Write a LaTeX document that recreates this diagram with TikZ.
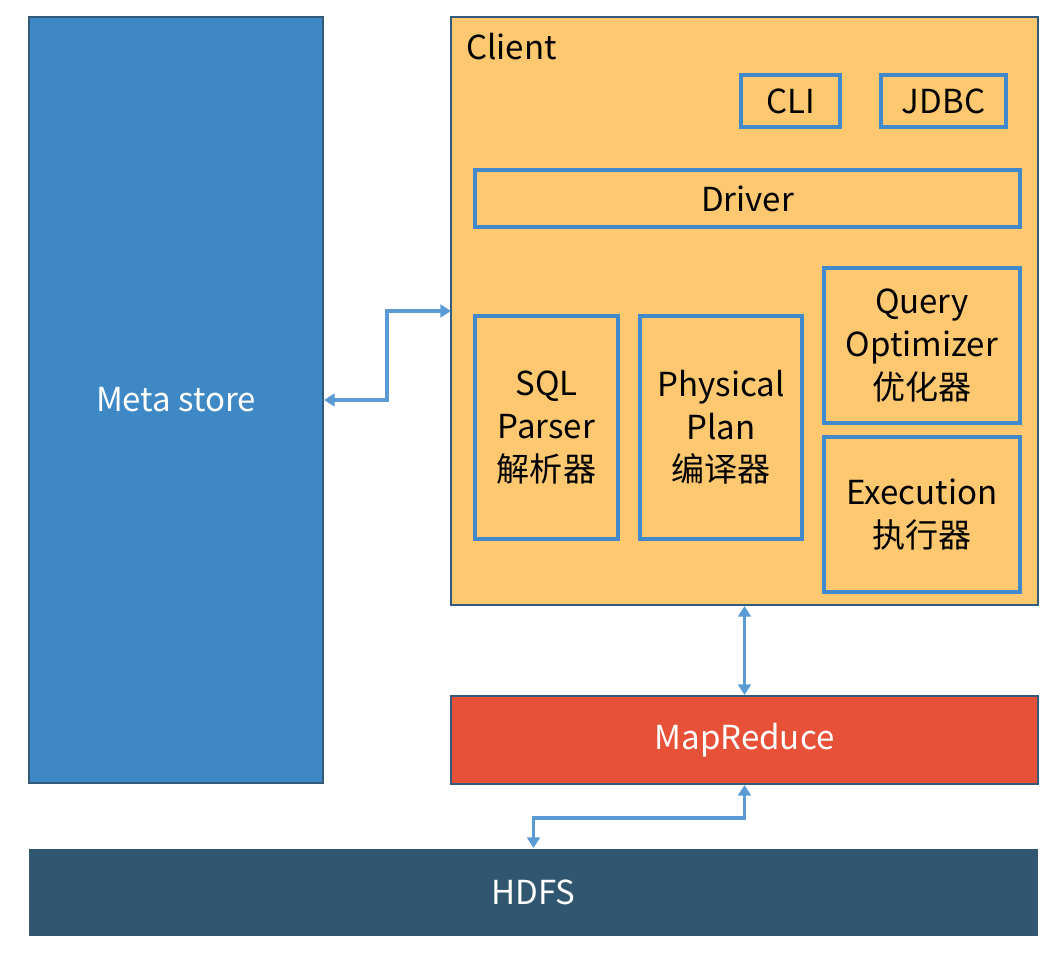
\documentclass[tikz,border=0pt]{standalone}
\usepackage{fontspec}
\setmainfont{Noto Sans CJK SC}
\usetikzlibrary{arrows.meta}

\definecolor{metablue}{HTML}{3D88C5}
\definecolor{edgeblue}{HTML}{315A7B}
\definecolor{clientorange}{HTML}{FDC86F}
\definecolor{boxblue}{HTML}{4189CB}
\definecolor{linkblue}{HTML}{5B9BD5}
\definecolor{mrred}{HTML}{E75138}
\definecolor{hdfsblue}{HTML}{31566F}

\tikzset{
  block/.style={draw=edgeblue, line width=1.4pt, rectangle, inner sep=0pt, font=\fontsize{23.5}{30}\selectfont},
  inbox/.style={draw=boxblue, line width=2.4pt, rectangle, inner sep=0pt, align=center, font=\fontsize{23.5}{30.3}\selectfont},
  link/.style={draw=linkblue, line width=2.4pt, {Triangle[length=7.5pt,width=9pt]}-{Triangle[length=7.5pt,width=9pt]}}
}

\begin{document}
\begin{tikzpicture}[x=0.025cm, y=-0.025cm]
\useasboundingbox (0,0) rectangle (1059,956);
% big blocks
\node [block, fill=metablue, text=white, minimum width=7.35cm, minimum height=19.15cm] (meta) at (176,400) {Meta store};
\node [block, fill=clientorange, minimum width=14.675cm, minimum height=14.7cm] (client) at (744.5,311) {};
\node [block, fill=mrred, text=white, minimum width=14.675cm, minimum height=2.2cm] (mr) at (744.5,740) {MapReduce};
\node [block, draw=none, fill=hdfsblue, text=white, minimum width=25.225cm, minimum height=2.175cm] (hdfs) at (533.5,892.5) {HDFS};
\node [anchor=west, inner sep=0pt, font=\fontsize{23.5}{30}\selectfont] (clientlabel) at (466,47) {Client};
% parts of the client
\node [inbox, minimum width=2.475cm, minimum height=1.3cm] (cli) at (790.5,101) {CLI};
\node [inbox, minimum width=3.125cm, minimum height=1.3cm] (jdbc) at (943.5,101) {JDBC};
\node [inbox, minimum width=13.625cm, minimum height=1.425cm] (driver) at (747.5,198.5) {Driver};
\node [inbox, minimum width=3.575cm, minimum height=5.575cm] (sql) at (546.5,427.5) {SQL\\Parser\\解析器};
\node [inbox, minimum width=4.05cm, minimum height=5.575cm] (plan) at (721,427.5) {Physical\\Plan\\编译器};
\node [inbox, minimum width=4.9cm, minimum height=3.875cm] (opt) at (922,345.5) {Query\\Optimizer\\优化器};
\node [inbox, minimum width=4.9cm, minimum height=3.875cm] (exec) at (922,514.5) {Execution\\执行器};
% connectors
\coordinate (cin) at (451,311);
\draw [link] (meta.east) -- (387,400) |- (cin);
\draw [link] (client.south) -- (mr.north);
\draw [link] (mr.south) -- ++(0,33) -| (hdfs.north);
\end{tikzpicture}
\end{document}
